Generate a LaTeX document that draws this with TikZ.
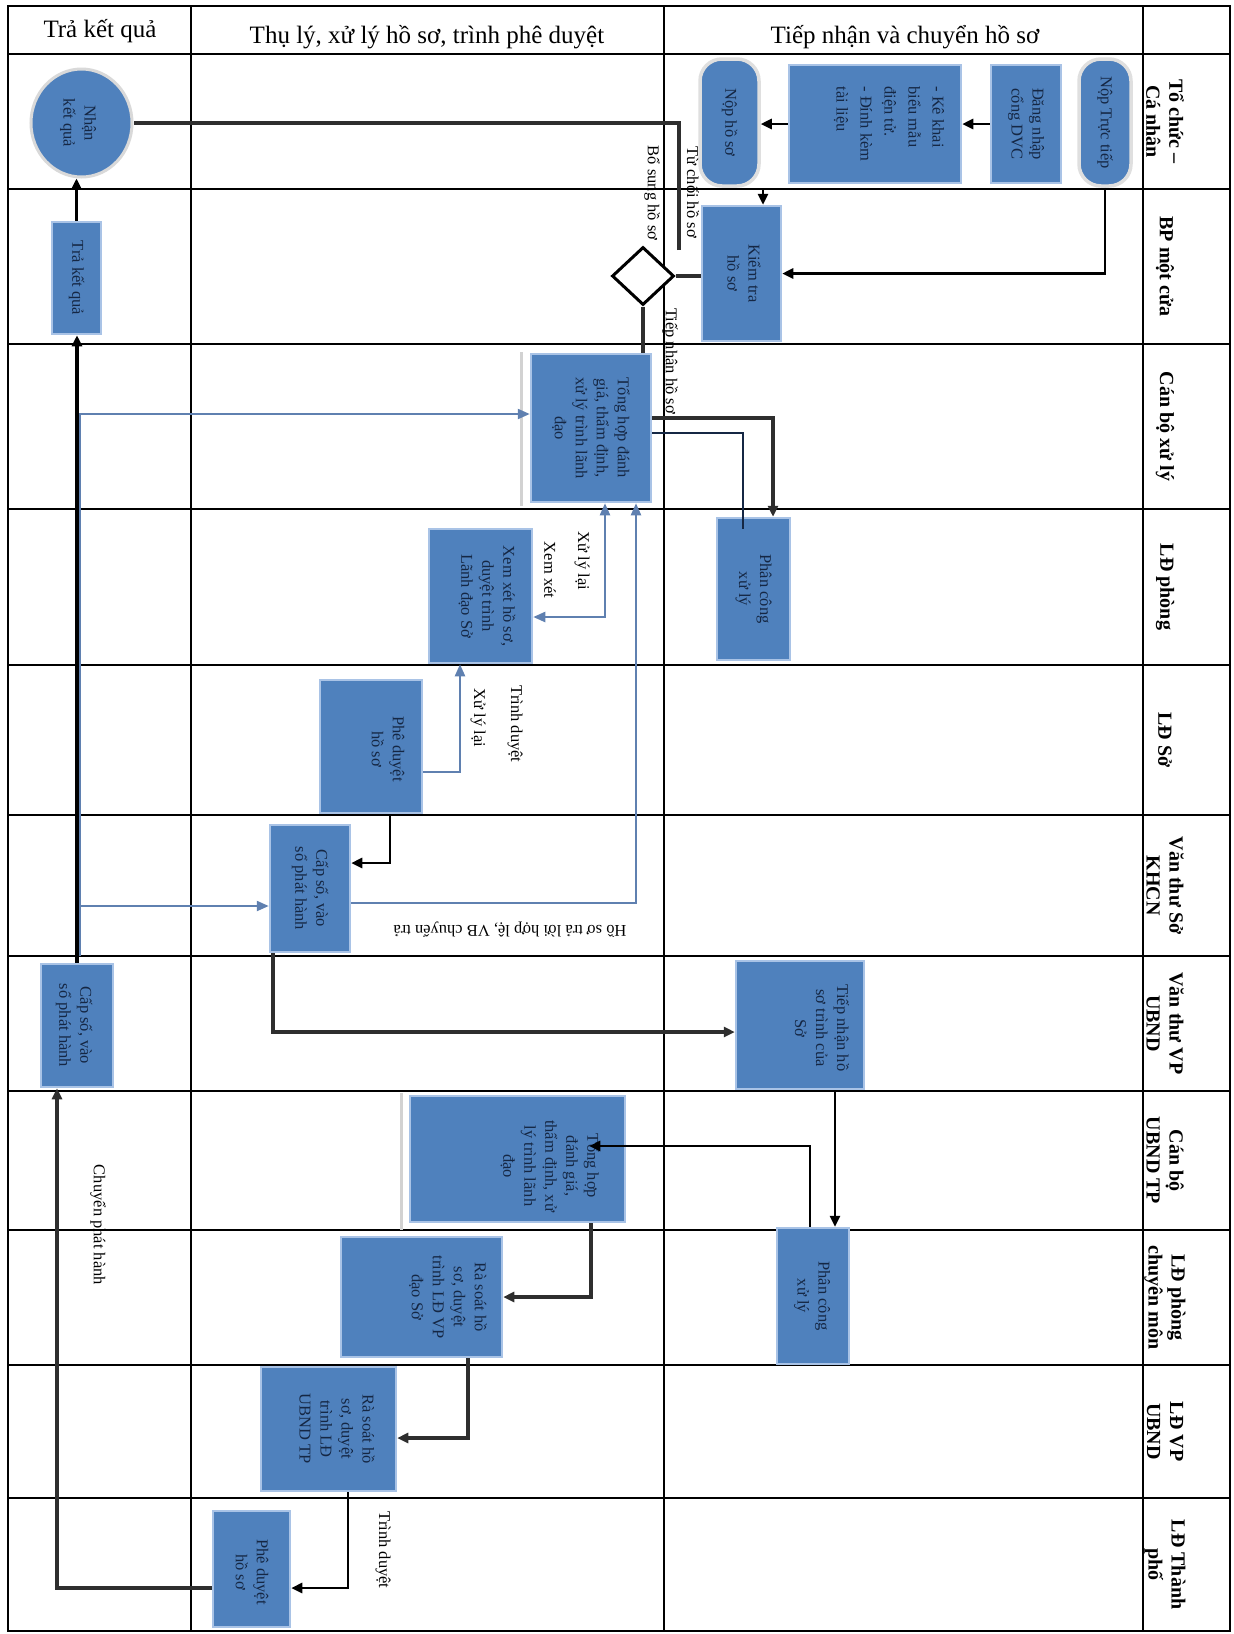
\documentclass[tikz,border=0pt]{standalone}
\usepackage{fontspec}
\setmainfont{Liberation Serif}
\usetikzlibrary{shapes.geometric,arrows.meta,calc}
\definecolor{boxblue}{HTML}{4F81BD}
\definecolor{boxtext}{HTML}{152744}
\definecolor{glowblue}{HTML}{A9C3E6}
\definecolor{linkblue}{HTML}{5F80B0}
\definecolor{darkline}{HTML}{2E2E2E}
\begin{document}
\begin{tikzpicture}[x=1pt,y=-1pt,
  bx/.style={rectangle, fill=boxblue, draw=glowblue, line width=2.5pt, inner sep=0pt},
  tx/.style={rotate=-90, align=center, text=boxtext, font=\fontsize{16.5}{21}\selectfont, inner sep=0pt},
  lane/.style={rotate=-90, align=center, font=\bfseries\fontsize{20}{23}\selectfont},
  hdr/.style={font=\fontsize{25}{28}\selectfont},
  lbl/.style={font=\fontsize{16.5}{20}\selectfont, inner sep=0pt},
  tbl/.style={line width=1.8pt, black},
  blk/.style={draw=black, line width=2.6pt, -{Triangle[length=11pt,width=10pt]}},
  dk/.style={draw=darkline, line width=3.2pt},
  blu/.style={draw=linkblue, line width=2.2pt, -{Triangle[length=12pt,width=10pt]}},
]
\useasboundingbox (0,0) rectangle (1234,1634);
\fill[white] (0,0) rectangle (1234,1634);

% ---- table ----
\draw[tbl] (8,6) rectangle (1230,1631);
\foreach \yy in {54,189,344,509,665,815,956,1091,1230,1365,1498}
  \draw[tbl] (8,\yy) -- (1230,\yy);
\foreach \xx in {191,664,1143}
  \draw[tbl] (\xx,6) -- (\xx,1631);

% headers
\node[hdr] (h1) at (100,31) {Trả kết quả};
\node[hdr] (h2) at (427,37) {Thụ lý, xử lý hồ sơ, trình phê duyệt};
\node[hdr] (h3) at (905,37) {Tiếp nhận và chuyển hồ sơ};

% lanes
\node[lane] (r1) at (1165,121.5) {Tổ chức –\\Cá nhân};
\node[lane] (r2) at (1165,266.5) {BP một cửa};
\node[lane] (r3) at (1165,426.5) {Cán bộ xử lý};
\node[lane] (r4) at (1165,587) {LĐ phòng};
\node[lane] (r5) at (1165,740) {LĐ Sở};
\node[lane] (r6) at (1165,885.5) {Văn thư Sở\\KHCN};
\node[lane] (r7) at (1165,1023.5) {Văn thư VP\\UBND};
\node[lane] (r8) at (1165,1160.5) {Cán bộ\\UBND TP};
\node[lane] (r9) at (1165,1297.5) {LĐ phòng\\chuyên môn};
\node[lane] (r10) at (1165,1431.5) {LĐ VP\\UBND};
\node[lane] (r11) at (1165,1564.5) {LĐ Thành\\phố};

% labels
\node[lbl, rotate=-90] (l1) at (693,192) {Từ chối hồ sơ};
\node[lbl, rotate=-90] (l2) at (652,193) {Bổ sung hồ sơ};
\node[lbl, rotate=-90] (l3) at (670,361) {Tiếp nhận hồ sơ};
\node[lbl, rotate=-90] (l4) at (582,561) {Xử lý lại};
\node[lbl, rotate=-90] (l5) at (550,570) {Xem xét};
\node[lbl, rotate=-90] (l6) at (478,718) {Xử lý lại};
\node[lbl, rotate=-90] (l7) at (515,724) {Trình duyệt};
\node[lbl, rotate=180] (l8) at (510,930) {Hồ sơ trả lời hợp lệ, VB chuyển trả};
\node[lbl, rotate=-90] (l9) at (98,1225) {Chuyển phát hành};
\node[lbl, rotate=-90] (l10) at (383,1550) {Trình duyệt};

% shadow bars
\draw[gray!35, line width=3pt] (521,352) -- (521,506);
\draw[gray!35, line width=3pt] (401,1093) -- (401,1230);

% ---- boxes ----
\node[bx, ellipse, draw=gray!30, line width=3pt, minimum width=101pt, minimum height=108pt] (nhan) at (81.5,123) {};
\node[tx] (nhant) at (78,123) {Nhận\\kết quả};

\node[bx, rounded corners=22pt, draw=gray!25, line width=3.5pt, minimum width=59pt, minimum height=127pt] (nophs) at (729.5,122.5) {};
\node[tx] (nophst) at (nophs.center) {Nộp hồ sơ};

\node[bx, rounded corners=22pt, draw=gray!25, line width=3.5pt, minimum width=52pt, minimum height=127pt] (nopttruc) at (1105,122.5) {};
\node[tx] (nopttruct) at (nopttruc.center) {Nộp Trực tiếp};

\node[bx, minimum width=70pt, minimum height=118pt] (dangnhap) at (1026,124) {};
\node[tx] (dangnhapt) at (dangnhap.center) {Đăng nhập\\cổng DVC};

\node[bx, minimum width=172pt, minimum height=118pt] (kekhai) at (875,124) {};
\node[tx, align=left, font=\fontsize{16.5}{24}\selectfont] (kekhait) at (889,124) {- Kê khai\\biểu mẫu\\điện tử.\\- Đính kèm\\tài liệu};

\node[bx, minimum width=79pt, minimum height=135pt] (kiemtra) at (741.5,273.5) {};
\node[tx] (kiemtrat) at (744,273.5) {Kiểm tra\\hồ sơ};

\node[diamond, draw=black, line width=3pt, fill=white, minimum width=62pt, minimum height=58pt, inner sep=0pt] (dia) at (643,276) {};

\node[bx, minimum width=49pt, minimum height=112pt] (trakq) at (76.5,278) {};
\node[tx] (trakqt) at (trakq.center) {Trả kết quả};

\node[bx, minimum width=120pt, minimum height=148pt] (th1) at (591,428) {};
\node[tx] (th1t) at (th1.center) {Tổng hợp đánh\\giá, thẩm định,\\xử lý trình lãnh\\đạo};

\node[bx, minimum width=73pt, minimum height=142pt] (pc1) at (753.5,589) {};
\node[tx] (pc1t) at (pc1.center) {Phân công\\xử lý};

\node[bx, minimum width=103pt, minimum height=134pt] (xemxet) at (480.5,596) {};
\node[tx] (xemxett) at (487,596) {Xem xét hồ sơ,\\duyệt trình\\Lãnh đạo Sở};

\node[bx, minimum width=102pt, minimum height=133pt] (pd1) at (371,746.5) {};
\node[tx] (pd1t) at (388,749) {Phê duyệt\\hồ sơ};

\node[bx, minimum width=80pt, minimum height=127pt] (cs1) at (310,888.5) {};
\node[tx] (cs1t) at (cs1.center) {Cấp số, vào\\sổ phát hành};

\node[bx, minimum width=72pt, minimum height=123pt] (cs2) at (77,1025.5) {};
\node[tx] (cs2t) at (74,1025.5) {Cấp số, vào\\sổ phát hành};

\node[bx, minimum width=128pt, minimum height=128pt] (tn) at (800,1025) {};
\node[tx] (tnt) at (822,1028) {Tiếp nhận hồ\\sơ trình của\\Sở};

\node[bx, minimum width=215pt, minimum height=126pt] (th2) at (517.5,1159) {};
\node[tx] (th2t) at (550,1166) {Tổng hợp\\đánh giá,\\thẩm định, xử\\lý trình lãnh\\đạo};

\node[bx, minimum width=72pt, minimum height=136pt] (pc2) at (813,1296) {};
\node[tx] (pc2t) at (812,1296) {Phân công\\xử lý};

\node[bx, minimum width=161pt, minimum height=120pt] (rs1) at (421.5,1297) {};
\node[tx] (rs1t) at (448,1297) {Rà soát hồ\\sơ, duyệt\\trình LĐ VP\\đạo Sở};

\node[bx, minimum width=135pt, minimum height=124pt] (rs2) at (328.5,1429) {};
\node[tx] (rs2t) at (337,1429) {Rà soát hồ\\sơ, duyệt\\trình LĐ\\UBND TP};

\node[bx, minimum width=77pt, minimum height=116pt] (pd2) at (251.5,1569) {};
\node[tx] (pd2t) at (252,1572) {Phê duyệt\\hồ sơ};

% ---- connectors ----
\coordinate (k1) at (763,189);
\coordinate (tc) at (679,250);
\coordinate (bl1) at (80,956);
\coordinate (bl2) at (80,906);

\draw[blk] (dangnhap.west) -- (kekhai.east);
\draw[blk] (kekhai.west) -- (kekhai.west -| nophs.east);
\draw[blk] (k1) -- (k1 |- kiemtra.north);
\draw[blk] (nopttruc.south) |- (kiemtra.east);
\draw[dk] (dia.east) -- (dia.east -| kiemtra.west);
\draw[dk] (dia.south) -- (dia.south |- th1.north);
\draw[dk] (tc) |- (nhan.east);
\draw[blk] (trakq.north) -- (trakq.north |- nhan.south);
\draw[blk, line width=3.4pt] (cs2.north) -- (cs2.north |- trakq.south);
\draw[blu] (bl1) |- ($(th1.west)+(0,-14)$);
\draw[blu] (bl2) -- (bl2 -| cs1.west);
\draw[dk, -{Triangle[length=11pt,width=10pt]}] ($(th1.east)+(0,-10)$) -| ($(pc1.north)+(19.5,0)$);
\draw[draw=boxtext, line width=2pt] ($(th1.east)+(0,5)$) -| ($(pc1.north)+(-10.5,12)$);
\draw[blu, {Triangle[length=12pt,width=10pt]}-{Triangle[length=12pt,width=10pt]}] ($(xemxet.east)+(0,21)$) -| ($(th1.south)+(14,0)$);
\draw[blu] ($(cs1.east)+(0,14.5)$) -| ($(th1.south)+(45,0)$);
\draw[blu] ($(pd1.east)+(0,25.5)$) -| ($(xemxet.south)+(-20.5,0)$);
\draw[blk] ($(pd1.south)+(19,0)$) |- ($(cs1.east)+(0,-25.5)$);
\draw[dk, -{Triangle[length=11pt,width=10pt]}] ($(cs1.south)+(-37,0)$) |- ($(tn.west)+(0,7)$);
\draw[blk] ($(tn.south)+(35,0)$) -- ($(pc2.north)+(22,0)$);
\draw[blk] ($(pc2.north)+(-3,0)$) |- ($(th2.east)+(-37,-13)$);
\draw[dk, -{Triangle[length=11pt,width=10pt]}] ($(th2.south)+(73.5,0)$) |- (rs1.east);
\draw[dk, -{Triangle[length=11pt,width=10pt]}] ($(rs1.south)+(46.5,0)$) |- ($(rs2.east)+(0,9)$);
\draw[blk] ($(rs2.south)+(19.5,0)$) |- ($(pd2.east)+(0,19)$);
\draw[dk, -{Triangle[length=11pt,width=10pt]}] ($(pd2.west)+(0,19)$) -| ($(cs2.south)+(-20,0)$);
\end{tikzpicture}
\end{document}
